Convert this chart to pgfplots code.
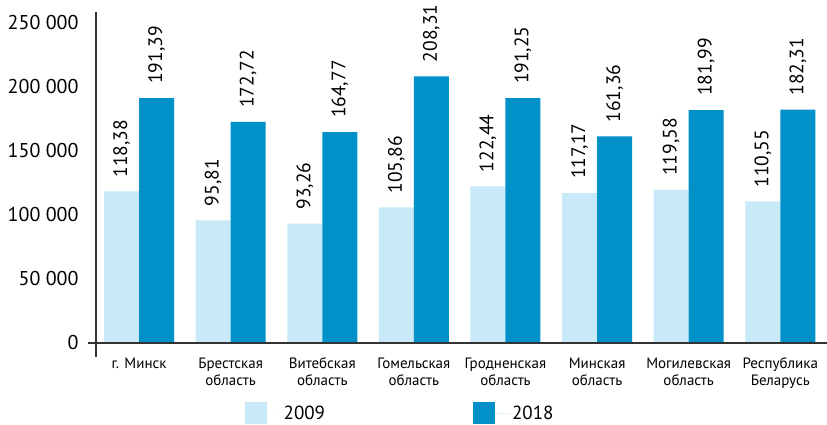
\documentclass[border=0pt]{standalone}
\usepackage{pgfplots}
\pgfplotsset{compat=1.18}
\usepackage{pgfplotstable}
\usepackage{fontspec}
\setmainfont{PT Sans}
\definecolor{lightb}{RGB}{199,233,248}
\definecolor{darkb}{RGB}{0,145,200}
\definecolor{axgray}{RGB}{51,51,51}
\pgfplotstableread{
x y lab
0 118380 118,38
1 95810 95,81
2 93260 93,26
3 105860 105,86
4 122440 122,44
5 117170 117,17
6 119580 119,58
7 110550 110,55
}\dataA
\pgfplotstableread{
x y lab
0 191390 191,39
1 172720 172,72
2 164770 164,77
3 208310 208,31
4 191250 191,25
5 161360 161,36
6 181990 181,99
7 182310 182,31
}\dataB
\begin{document}
\begin{tikzpicture}
\path[use as bounding box] (-96pt,-82pt) rectangle (731pt,343pt);
\begin{axis}[
  at={(0pt,0pt)}, anchor=south west,
  scale only axis, width=731pt, height=331pt,
  xmin=-0.47, xmax=7.51, ymin=0, ymax=258594,
  ybar=0pt, bar width=35pt,
  axis line style={draw=none}, tick style={draw=none},
  major tick length=0pt,
  clip=false,
  ytick={0,50000,100000,150000,200000,250000},
  yticklabels={0,50 000,100 000,150 000,200 000,250 000},
  scaled y ticks=false,
  yticklabel style={font=\fontsize{20}{23}\selectfont, anchor=east, xshift=-14pt},
  xtick={0,...,7},
  xticklabels={{г. Минск},{Брестская\\область},{Витебская\\область},{Гомельская\\область},{Гродненская\\область},{Минская\\область},{Могилевская\\область},{Республика\\Беларусь}},
  xticklabel style={font=\fontsize{15}{17}\selectfont, align=center, anchor=north, yshift=-11pt},
  nodes near coords,
  point meta=explicit symbolic,
  every node near coord/.append style={font=\fontsize{19.5}{22}\selectfont, rotate=90, anchor=west, inner xsep=14pt, inner ysep=0pt},
  legend style={at={(0.416,-0.2115)}, anchor=center, draw=none, fill=none,
    font=\fontsize{19}{22}\selectfont, legend columns=2,
    /tikz/every even column/.append style={column sep=146pt}},
  legend image code/.code={\fill[#1] (0pt,-11pt) rectangle (22pt,11pt); \path (22pt,0pt) -- (37pt,0pt);},
]
\addplot[fill=lightb, draw=none] table[x=x, y=y, meta=lab] {\dataA};
\addlegendentry{2009}
\addplot[fill=darkb, draw=none] table[x=x, y=y, meta=lab] {\dataB};
\addlegendentry{2018}
\draw[axgray, line width=1.4pt] (axis cs:-0.47,-10940) -- (axis cs:-0.47,258594);
\draw[axgray, line width=1.4pt] (axis cs:-0.557,0) -- (axis cs:7.51,0);
\end{axis}
\end{tikzpicture}
\end{document}
